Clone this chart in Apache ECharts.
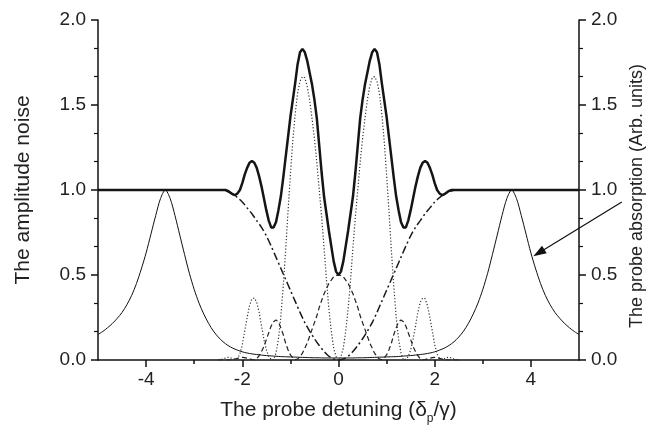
<!DOCTYPE html>
<html><head><meta charset="utf-8">
<script src="https://cdn.jsdelivr.net/npm/echarts@6/dist/echarts.min.js"></script>
<style>html,body{margin:0;padding:0;background:#fff}#c{width:668px;height:431px}</style>
</head><body><div id="c"></div>
<script>
// ---- data ----
const noiseX = [-5,
-2.5,-2.45,-2.4,-2.35,-2.3,-2.25,-2.2,-2.15,-2.1,-2.05,
-2,-1.95,-1.9,-1.85,-1.8,-1.75,-1.7,-1.65,-1.6,-1.55,
-1.5,-1.45,-1.4,-1.35,-1.3,-1.25,-1.2,-1.15,-1.1,-1.05,
-1,-0.95,-0.9,-0.85,-0.8,-0.75,-0.7,-0.65,-0.6,-0.55,
-0.5,-0.45,-0.4,-0.35,-0.3,-0.25,-0.2,-0.15,-0.1,-0.05,
0,
0.05,0.1,0.15,0.2,0.25,0.3,0.35,0.4,0.45,0.5,
0.55,0.6,0.65,0.7,0.75,0.8,0.85,0.9,0.95,1,
1.05,1.1,1.15,1.2,1.25,1.3,1.35,1.4,1.45,1.5,
1.55,1.6,1.65,1.7,1.75,1.8,1.85,1.9,1.95,2,
2.05,2.1,2.15,2.2,2.25,2.3,2.35,2.4,2.45,2.5,
5];
const noiseTotal = [1,
1.0,1.0,1.0,1.0,0.995,0.985,0.975,0.97,0.98,1.00,
1.04,1.09,1.13,1.16,1.17,1.16,1.13,1.08,1.02,0.95,
0.88,0.82,0.78,0.78,0.81,0.88,0.96,1.07,1.19,1.31,
1.43,1.53,1.63,1.74,1.81,1.83,1.81,1.76,1.69,1.62,
1.53,1.42,1.26,1.10,0.96,0.86,0.76,0.67,0.58,0.52,
0.50,
0.52,0.58,0.67,0.76,0.86,0.96,1.10,1.26,1.42,1.53,
1.62,1.69,1.76,1.81,1.83,1.81,1.74,1.63,1.53,1.43,
1.31,1.19,1.07,0.96,0.88,0.81,0.78,0.78,0.82,0.88,
0.95,1.02,1.08,1.13,1.16,1.17,1.16,1.13,1.09,1.04,
1.00,0.98,0.97,0.975,0.985,0.995,1.0,1.0,1.0,1.0,
1];

const fineX = [
-2.5,-2.45,-2.4,-2.35,-2.3,-2.25,-2.2,-2.15,-2.1,-2.05,
-2,-1.95,-1.9,-1.85,-1.8,-1.75,-1.7,-1.65,-1.6,-1.55,
-1.5,-1.45,-1.4,-1.35,-1.3,-1.25,-1.2,-1.15,-1.1,-1.05,
-1,-0.95,-0.9,-0.85,-0.8,-0.75,-0.7,-0.65,-0.6,-0.55,
-0.5,-0.45,-0.4,-0.35,-0.3,-0.25,-0.2,-0.15,-0.1,-0.05,
0,
0.05,0.1,0.15,0.2,0.25,0.3,0.35,0.4,0.45,0.5,
0.55,0.6,0.65,0.7,0.75,0.8,0.85,0.9,0.95,1,
1.05,1.1,1.15,1.2,1.25,1.3,1.35,1.4,1.45,1.5,
1.55,1.6,1.65,1.7,1.75,1.8,1.85,1.9,1.95,2,
2.05,2.1,2.15,2.2,2.25,2.3,2.35,2.4,2.45,2.5];

const dottedPart = [
0,0.002,0.006,0.012,0.016,0.014,0.008,0.004,0.008,0.035,
0.09,0.17,0.25,0.32,0.36,0.365,0.34,0.28,0.20,0.12,
0.06,0.02,0.005,0,0.04,0.12,0.25,0.43,0.64,0.87,
1.09,1.29,1.45,1.57,1.64,1.667,1.66,1.61,1.53,1.42,
1.30,1.16,1.00,0.84,0.66,0.47,0.30,0.17,0.07,0.02,
0,
0.02,0.07,0.17,0.30,0.47,0.66,0.84,1.00,1.16,1.30,
1.42,1.53,1.61,1.66,1.667,1.64,1.57,1.45,1.29,1.09,
0.87,0.64,0.43,0.25,0.12,0.04,0,0.005,0.02,0.06,
0.12,0.20,0.28,0.34,0.365,0.36,0.32,0.25,0.17,0.09,
0.035,0.008,0.004,0.008,0.014,0.016,0.012,0.006,0.002,0];

const dashedPart = [
0,0,0,0,0,0.001,0.003,0.006,0.01,0.013,
0.015,0.014,0.011,0.007,0.003,0,0.008,0.025,0.05,0.08,
0.12,0.16,0.20,0.225,0.235,0.225,0.19,0.15,0.10,0.06,
0.03,0.012,0.002,0.006,0.02,0.04,0.07,0.10,0.14,0.18,
0.22,0.26,0.31,0.35,0.39,0.42,0.45,0.47,0.49,0.497,
0.50,
0.497,0.49,0.47,0.45,0.42,0.39,0.35,0.31,0.26,0.22,
0.18,0.14,0.10,0.07,0.04,0.02,0.006,0.002,0.012,0.03,
0.06,0.10,0.15,0.19,0.225,0.235,0.225,0.20,0.16,0.12,
0.08,0.05,0.025,0.008,0,0.003,0.007,0.011,0.014,0.015,
0.013,0.01,0.006,0.003,0.001,0,0,0,0,0];

const dashDotX = [-5,
-2.5,-2.4,-2.3,-2.2,-2.1,-2,-1.9,-1.8,-1.7,-1.6,
-1.5,-1.4,-1.3,-1.2,-1.1,-1,-0.9,-0.8,-0.7,-0.6,
-0.5,-0.4,-0.3,-0.2,-0.1,
0,
0.1,0.2,0.3,0.4,0.5,0.6,0.7,0.8,0.9,1,
1.1,1.2,1.3,1.4,1.5,1.6,1.7,1.8,1.9,2,
2.1,2.2,2.3,2.4,2.5,
5];
const dashDotPart = [1,
1.0,0.998,0.99,0.975,0.955,0.93,0.895,0.86,0.82,0.78,
0.73,0.67,0.605,0.54,0.475,0.41,0.345,0.28,0.22,0.17,
0.125,0.085,0.05,0.022,0.006,
0,
0.006,0.022,0.05,0.085,0.125,0.17,0.22,0.28,0.345,0.41,
0.475,0.54,0.605,0.67,0.73,0.78,0.82,0.86,0.895,0.93,
0.955,0.975,0.99,0.998,1.0,
1];

const absX = [
-5,-4.9,-4.8,-4.7,-4.6,-4.5,-4.4,-4.3,-4.2,-4.1,
-4,-3.9,-3.8,-3.7,-3.6,-3.5,-3.4,-3.3,-3.2,-3.1,
-3,-2.9,-2.8,-2.7,-2.6,-2.5,-2.4,-2.3,-2.2,-2.1,
-2,-1.9,-1.8,-1.7,-1.6,-1.5,-1.4,-1.3,-1.2,-1.1,
-1,-0.9,-0.8,-0.7,-0.6,-0.5,-0.4,-0.3,-0.2,-0.1,
0,
0.1,0.2,0.3,0.4,0.5,0.6,0.7,0.8,0.9,1,
1.1,1.2,1.3,1.4,1.5,1.6,1.7,1.8,1.9,2,
2.1,2.2,2.3,2.4,2.5,2.6,2.7,2.8,2.9,3,
3.1,3.2,3.3,3.4,3.5,3.6,3.7,3.8,3.9,4,
4.1,4.2,4.3,4.4,4.5,4.6,4.7,4.8,4.9,5];
const absorption = [
0.15,0.168,0.19,0.215,0.245,0.28,0.325,0.38,0.45,0.535,
0.63,0.74,0.85,0.95,1.0,0.95,0.85,0.735,0.62,0.51,
0.415,0.335,0.27,0.215,0.17,0.135,0.107,0.086,0.07,0.058,
0.048,0.041,0.036,0.032,0.029,0.026,0.024,0.022,0.02,0.019,
0.018,0.017,0.016,0.015,0.014,0.013,0.013,0.012,0.012,0.012,
0.012,
0.012,0.012,0.012,0.013,0.013,0.014,0.015,0.016,0.017,0.018,
0.019,0.02,0.022,0.024,0.026,0.029,0.032,0.036,0.041,0.048,
0.058,0.07,0.086,0.107,0.135,0.17,0.215,0.27,0.335,0.415,
0.51,0.62,0.735,0.85,0.95,1.0,0.95,0.85,0.74,0.63,
0.535,0.45,0.38,0.325,0.28,0.245,0.215,0.19,0.168,0.15];

const xMajorTicks = [-4, -2, 0, 2, 4];
const xMinorTicks = [-3, -1, 1, 3];
const arrowTail = [5.89, 0.93];
const arrowHead = [4.05, 0.61];

// ---- chart ----
[[noiseX,noiseTotal],[fineX,dottedPart],[fineX,dashedPart],[dashDotX,dashDotPart],[absX,absorption]].forEach((p,i)=>{
  if (p[0].length !== p[1].length) console.error('length mismatch', i, p[0].length, p[1].length);
});
function pairs(xs, ys) { return xs.map((x, i) => [x, ys[i]]); }

const FONT = "'Liberation Sans', Arial, Helvetica, sans-serif";
const TXT = '#222';
const AX = '#111';
const axisLine = {show: true, onZero: false, lineStyle: {color: AX, width: 1.5}};

function yAxisCfg(pos, name, gap, nameSize, namePad) {
  return {
    type: 'value', min: 0, max: 2, interval: 0.5, position: pos,
    axisLine: axisLine,
    axisTick: {show: true, inside: false, length: 7, lineStyle: {color: AX, width: 1.5}},
    minorTick: {show: true, splitNumber: 3, length: 4, lineStyle: {color: AX, width: 1.2}},
    axisLabel: {fontSize: 19, color: TXT, fontFamily: FONT, margin: 12, formatter: v => v.toFixed(1)},
    splitLine: {show: false}, minorSplitLine: {show: false},
    name: name, nameLocation: 'middle', nameRotate: 90, nameGap: gap,
    nameTextStyle: {fontSize: nameSize, color: TXT, fontFamily: FONT, padding: namePad}
  };
}

const chart = echarts.init(document.getElementById('c'), null, {renderer: 'canvas'});
chart.setOption({
  animation: false,
  backgroundColor: '#fff',
  textStyle: {fontFamily: FONT},
  grid: {left: 98, right: 89, top: 20, bottom: 71, containLabel: false},
  xAxis: [{
    type: 'value', min: -5, max: 5, position: 'bottom',
    axisLine: axisLine,
    axisTick: {show: true, customValues: xMajorTicks, length: 7, lineStyle: {color: AX, width: 1.5}},
    axisLabel: {show: true, customValues: xMajorTicks, fontSize: 19, color: TXT, fontFamily: FONT, margin: 10},
    splitLine: {show: false},
    name: '{t|The probe detuning (δ}{s|p}{t|/γ)}',
    nameLocation: 'middle', nameGap: 35,
    nameTextStyle: {
      rich: {
        t: {fontSize: 21, fontFamily: FONT, color: TXT, lineHeight: 30, verticalAlign: 'middle'},
        s: {fontSize: 12, fontFamily: FONT, color: TXT, lineHeight: 14, verticalAlign: 'bottom'}
      }
    }
  }, {
    type: 'value', min: -5, max: 5, position: 'bottom',
    axisLine: {show: false},
    axisTick: {show: true, customValues: xMinorTicks, length: 4, lineStyle: {color: AX, width: 1.5}},
    axisLabel: {show: false},
    splitLine: {show: false}
  }],
  yAxis: [
    yAxisCfg('left', 'The amplitude noise', 64, 21, 0),
    yAxisCfg('right', 'The probe absorption (Arb. units)', 40, 18, [0, 12, 0, 0])
  ],
  series: [
    {type: 'line', xAxisIndex: 0, yAxisIndex: 1, data: pairs(absX, absorption),
     showSymbol: false, symbol: 'none', smooth: 0.3, lineStyle: {color: '#111', width: 1}, z: 2},
    {type: 'line', xAxisIndex: 0, yAxisIndex: 0, data: pairs(dashDotX, dashDotPart),
     showSymbol: false, symbol: 'none', smooth: 0.3, lineStyle: {color: '#1a1a1a', width: 1.5, type: [8, 3, 2, 3]}, z: 3},
    {type: 'line', xAxisIndex: 0, yAxisIndex: 0, data: pairs(fineX, dashedPart),
     showSymbol: false, symbol: 'none', lineStyle: {color: '#222', width: 1.2, type: [5, 3]}, z: 3},
    {type: 'line', xAxisIndex: 0, yAxisIndex: 0, data: pairs(fineX, dottedPart),
     showSymbol: false, symbol: 'none', lineStyle: {color: '#333', width: 1.2, type: [1.2, 2]}, z: 3},
    {type: 'line', xAxisIndex: 0, yAxisIndex: 0, data: pairs(noiseX, noiseTotal),
     showSymbol: false, symbol: 'none', lineStyle: {color: '#151515', width: 2.5}, z: 5}
  ]
});

// arrow annotation pointing at the absorption curve
const a = chart.convertToPixel({seriesIndex: 0}, arrowTail);
const b = chart.convertToPixel({seriesIndex: 0}, arrowHead);
const dx = b[0] - a[0], dy = b[1] - a[1], L = Math.hypot(dx, dy), ux = dx / L, uy = dy / L;
const headLen = 13, headW = 4.5;
const base = [b[0] - ux * headLen, b[1] - uy * headLen];
chart.setOption({
  graphic: [
    {type: 'line', shape: {x1: a[0], y1: a[1], x2: base[0] + ux * 2, y2: base[1] + uy * 2},
     style: {stroke: '#111', lineWidth: 1.2}, z: 10},
    {type: 'polygon', shape: {points: [b, [base[0] - uy * headW, base[1] + ux * headW], [base[0] + uy * headW, base[1] - ux * headW]]},
     style: {fill: '#111'}, z: 10}
  ]
});
</script>
</body></html>
